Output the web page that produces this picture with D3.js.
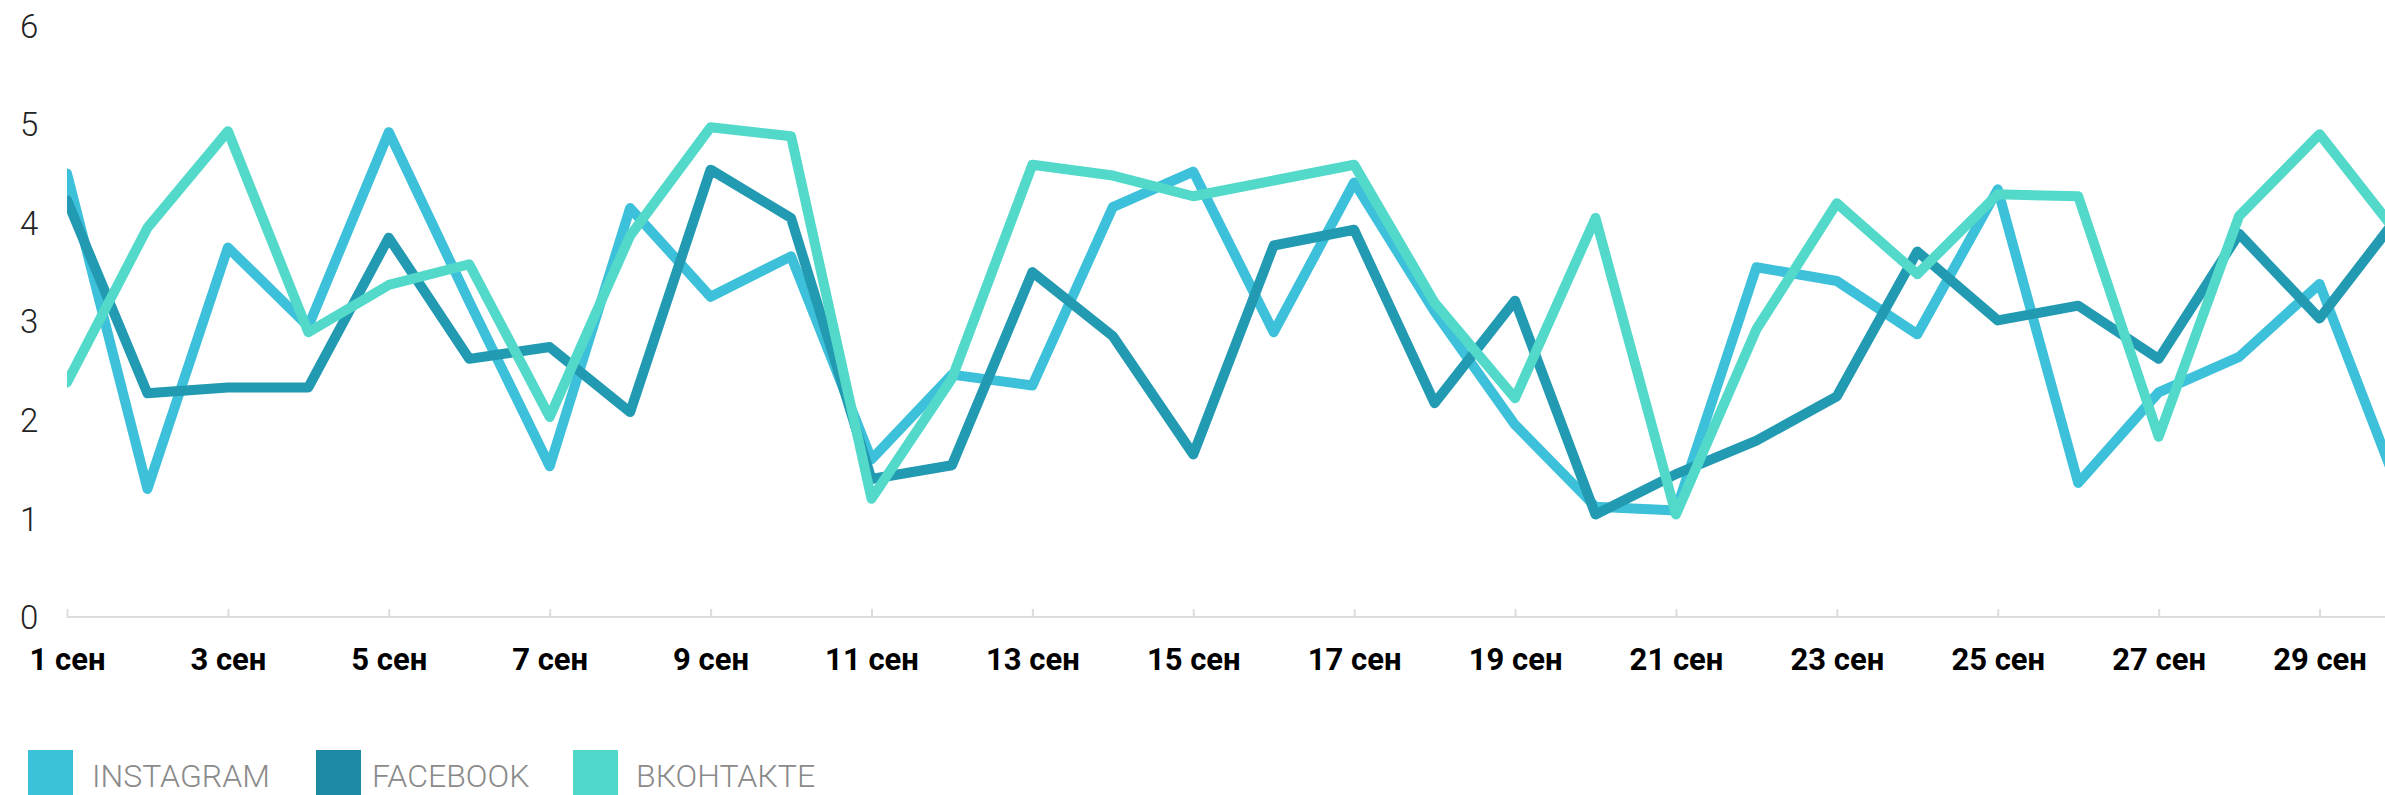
<!DOCTYPE html>
<html>
<head>
<meta charset="utf-8">
<script src="https://cdn.jsdelivr.net/npm/d3@7"></script>
<style>
  html, body { margin: 0; padding: 0; background: #fff; overflow: hidden; }
  svg { display: block; font-family: Roboto, "Noto Sans", sans-serif; }
</style>
</head>
<body>
<svg id="chart" width="2385" height="795"></svg>
<script>
// Days of September
const days = d3.range(1, 31);

// Daily values per network
const instagram = [4.5, 1.3, 3.75, 2.95, 4.92, 3.2, 1.53, 4.15, 3.25, 3.66,
                   1.6, 2.46, 2.35, 4.16, 4.52, 2.89, 4.41, 3.1, 1.95, 1.12,
                   1.08, 3.55, 3.41, 2.87, 4.34, 1.36, 2.28, 2.64, 3.38, 1.26];
const facebook  = [4.23, 2.27, 2.33, 2.33, 3.85, 2.62, 2.74, 2.08, 4.54, 4.05,
                   1.4, 1.54, 3.5, 2.85, 1.65, 3.77, 3.93, 2.17, 3.21, 1.04,
                   1.45, 1.79, 2.24, 3.71, 3.01, 3.16, 2.62, 3.89, 3.03, 4.09];
const vkontakte = [2.38, 3.95, 4.93, 2.89, 3.37, 3.58, 2.03, 3.87, 4.97, 4.88,
                   1.2, 2.42, 4.59, 4.48, 4.27, 4.43, 4.59, 3.19, 2.22, 4.05,
                   1.04, 2.92, 4.2, 3.48, 4.29, 4.27, 1.83, 4.07, 4.9, 3.86];

const seriesNames = ["INSTAGRAM", "FACEBOOK", "ВКОНТАКТЕ"];
const lineColors   = ["#3dc0da", "#229ab1", "#52d9ca"];
const legendColors = ["#3bc1da", "#1e8ba5", "#50d9ca"];

const yTicks = [0, 1, 2, 3, 4, 5, 6];
const xTickDays = d3.range(1, 30, 2);
const monthLabel = "сен";

const svg = d3.select("#chart");

const x = d3.scaleLinear().domain([1, 30]).range([67, 2400]);
const y = d3.scaleLinear().domain([0, 6]).range([617, 25.8]);

// Plot clip: lines start flush at the first day
svg.append("defs").append("clipPath").attr("id", "plot-clip")
  .append("rect")
  .attr("x", x(1)).attr("y", 0)
  .attr("width", 2385 - x(1)).attr("height", 700);

// Y axis labels (no axis line)
const yAxis = d3.axisLeft(y).tickValues(yTicks).tickSize(0).tickPadding(0)
  .tickFormat(d3.format("d"));
const gy = svg.append("g").attr("transform", "translate(20,0)").call(yAxis);
gy.select(".domain").remove();
gy.selectAll("text")
  .attr("text-anchor", "start")
  .attr("x", 0)
  .attr("dy", "0.35em")
  .style("font-family", "Roboto, sans-serif")
  .style("font-weight", 300)
  .style("font-size", "33px")
  .style("fill", "#222");

// X axis: baseline with upward ticks on odd days
const xAxis = d3.axisBottom(x).tickValues(xTickDays).tickSize(-8).tickSizeOuter(0)
  .tickFormat(d => `${d} ${monthLabel}`);
const gx = svg.append("g").attr("transform", `translate(0,${y(0)})`).call(xAxis);
gx.select(".domain")
  .attr("d", `M${x(1)},0H2385`)
  .attr("stroke", "#dcdcdc").attr("stroke-width", 2);
gx.selectAll(".tick line").attr("stroke", "#dcdcdc").attr("stroke-width", 2);
gx.selectAll(".tick text")
  .attr("y", 42)
  .attr("dy", "0.35em")
  .style("font-family", "Roboto, sans-serif")
  .style("font-weight", 700)
  .style("font-size", "31px")
  .style("fill", "#000");

// Lines
const allSeries = [instagram, facebook, vkontakte];
const line = d3.line().x((d, i) => x(days[i])).y(d => y(d));
const gLines = svg.append("g").attr("clip-path", "url(#plot-clip)");
allSeries.forEach((vals, k) => {
  gLines.append("path")
    .datum(vals)
    .attr("d", line)
    .attr("fill", "none")
    .attr("stroke", lineColors[k])
    .attr("stroke-width", 10)
    .attr("stroke-linejoin", "round")
    .attr("stroke-linecap", "round");
});

// Legend: swatch and label positions for each entry
const swatchX = [28, 316, 573];
const labelX  = [92, 372, 636];
const legend = svg.append("g").attr("transform", "translate(0,750)");
seriesNames.forEach((name, k) => {
  legend.append("rect")
    .attr("x", swatchX[k]).attr("y", 0)
    .attr("width", 45).attr("height", 45)
    .attr("fill", legendColors[k]);
  legend.append("text")
    .attr("x", labelX[k]).attr("y", 36.7)
    .style("font-family", "Roboto, sans-serif")
    .style("font-weight", 300)
    .style("font-size", "32px")
    .style("fill", "#8a8a8a")
    .text(name);
});
</script>
</body>
</html>
